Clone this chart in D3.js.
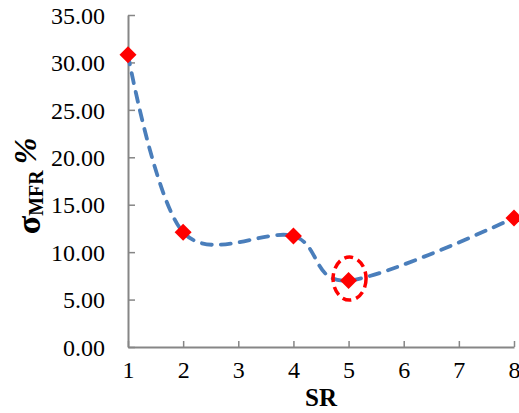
<!DOCTYPE html>
<html>
<head>
<meta charset="utf-8">
<script src="https://cdn.jsdelivr.net/npm/d3@7"></script>
<style>
  html, body { margin: 0; padding: 0; background: #fff; }
  svg { display: block; }
</style>
</head>
<body>
<svg id="chart" width="519" height="413"></svg>
<script>
// SR values and the measured sigma_MFR (%)
const srValues = [1, 2, 4, 5, 8];
const sigmaValues = [30.8, 12.1, 11.7, 7.0, 13.6];
const xTickValues = [1, 2, 3, 4, 5, 6, 7, 8];
const yTickValues = [0, 5, 10, 15, 20, 25, 30, 35];
const highlightSR = 5;

const svg = d3.select("#chart");
const plotLeft = 128, plotRight = 514, plotTop = 15, plotBottom = 347;

const x = d3.scaleLinear().domain([1, 8]).range([plotLeft, plotRight]);
const y = d3.scaleLinear().domain([0, 35]).range([plotBottom, plotTop]);

const axisColor = "#868686";
const font = "'Liberation Serif', 'Times New Roman', serif";

// Y axis, ticks pointing into the plot
const yAxis = svg.append("g")
  .attr("transform", `translate(${plotLeft},0)`)
  .call(d3.axisLeft(y).tickValues(yTickValues).tickSizeInner(-7).tickSizeOuter(0)
    .tickFormat(d3.format(".2f")).tickPadding(23));
yAxis.select(".domain").attr("stroke", axisColor).attr("stroke-width", 2);
yAxis.selectAll(".tick line").attr("stroke", axisColor).attr("stroke-width", 1.5);
yAxis.selectAll(".tick text")
  .attr("font-family", font).attr("font-size", 24).attr("fill", "#000")
  .attr("dy", "0.34em");

// X axis, ticks pointing into the plot
const xAxis = svg.append("g")
  .attr("transform", `translate(0,${plotBottom})`)
  .call(d3.axisBottom(x).tickValues(xTickValues).tickSizeInner(-6).tickSizeOuter(0)
    .tickFormat(d3.format("d")).tickPadding(24));
xAxis.select(".domain").attr("stroke", axisColor).attr("stroke-width", 2);
xAxis.selectAll(".tick line").attr("stroke", axisColor).attr("stroke-width", 1.5);
xAxis.selectAll(".tick text")
  .attr("font-family", font).attr("font-size", 24).attr("fill", "#000")
  .attr("dy", "0.3em");

// Axis titles
svg.append("text")
  .attr("x", (plotLeft + plotRight) / 2).attr("y", 406)
  .attr("text-anchor", "middle")
  .attr("font-family", font).attr("font-size", 25).attr("font-weight", "bold")
  .text("SR");

const yTitle = svg.append("text")
  .attr("transform", "translate(40,186) rotate(-90)")
  .attr("text-anchor", "middle")
  .attr("font-family", font).attr("font-weight", "bold");
yTitle.append("tspan").attr("font-size", 34).text("σ");
yTitle.append("tspan").attr("font-size", 20).attr("dy", 3).text("MFR");
yTitle.append("tspan").attr("font-size", 32).attr("font-style", "italic")
  .attr("dy", -7).attr("dx", 6).text("%");

// Smoothed dashed line
const pts = srValues.map((v, i) => [v, sigmaValues[i]]);
const line = d3.line()
  .x(d => x(d[0])).y(d => y(d[1]))
  .curve(d3.curveCardinal.tension(0));
svg.append("path")
  .datum(pts)
  .attr("d", line)
  .attr("fill", "none")
  .attr("stroke", "#4A7EBB")
  .attr("stroke-width", 3.8)
  .attr("stroke-dasharray", "10,9")
  .attr("stroke-linecap", "round");

// Diamond markers
svg.selectAll(".marker")
  .data(pts)
  .enter().append("path")
  .attr("class", "marker")
  .attr("transform", d => `translate(${x(d[0])},${y(d[1])})`)
  .attr("d", "M0,-8.5L8.5,0L0,8.5L-8.5,0Z")
  .attr("fill", "#FF0000");

// Dashed ellipse around the minimum
const hi = srValues.indexOf(highlightSR);
svg.append("ellipse")
  .attr("cx", x(srValues[hi]) + 1)
  .attr("cy", y(sigmaValues[hi]) - 2)
  .attr("rx", 16.5)
  .attr("ry", 21.5)
  .attr("fill", "none")
  .attr("stroke", "#FF0000")
  .attr("stroke-width", 3.5)
  .attr("stroke-dasharray", "9,5");
</script>
</body>
</html>
